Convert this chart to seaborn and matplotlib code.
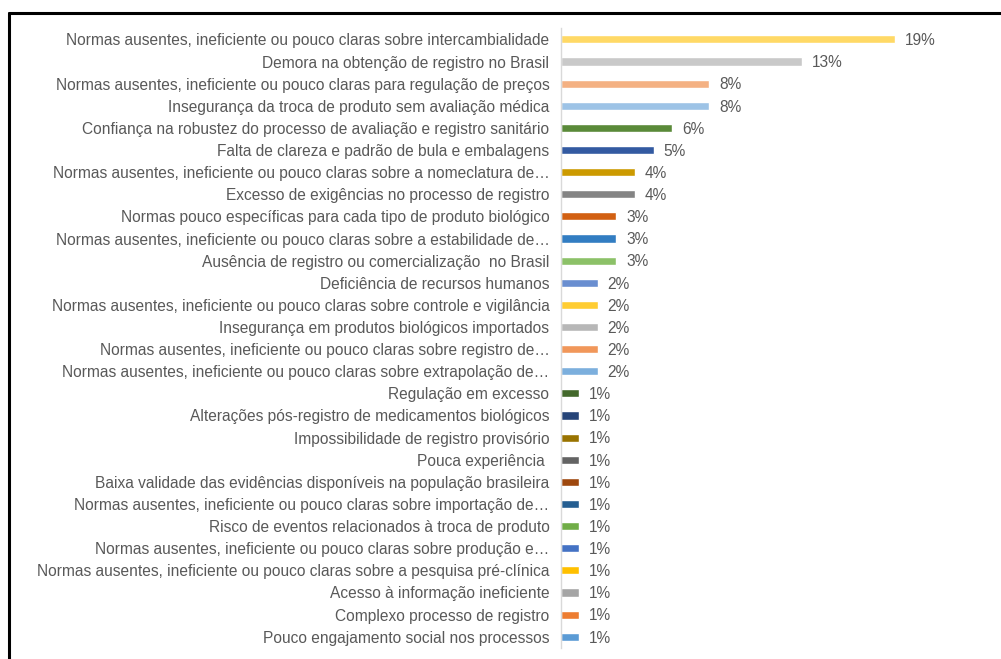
import matplotlib
matplotlib.use("Agg")
import matplotlib.pyplot as plt
from matplotlib.lines import Line2D
import seaborn as sns
import pandas as pd

# Motivos citados (de cima para baixo) e número de citações de cada um
motivos = [
    "Normas ausentes, ineficiente ou pouco claras sobre intercambialidade",
    "Demora na obtenção de registro no Brasil",
    "Normas ausentes, ineficiente ou pouco claras para regulação de preços",
    "Insegurança da troca de produto sem avaliação médica",
    "Confiança na robustez do processo de avaliação e registro sanitário",
    "Falta de clareza e padrão de bula e embalagens",
    "Normas ausentes, ineficiente ou pouco claras sobre a nomeclatura de…",
    "Excesso de exigências no processo de registro",
    "Normas pouco específicas para cada tipo de produto biológico",
    "Normas ausentes, ineficiente ou pouco claras sobre a estabilidade de…",
    "Ausência de registro ou comercialização  no Brasil",
    "Deficiência de recursos humanos",
    "Normas ausentes, ineficiente ou pouco claras sobre controle e vigilância",
    "Insegurança em produtos biológicos importados",
    "Normas ausentes, ineficiente ou pouco claras sobre registro de…",
    "Normas ausentes, ineficiente ou pouco claras sobre extrapolação de…",
    "Regulação em excesso",
    "Alterações pós-registro de medicamentos biológicos",
    "Impossibilidade de registro provisório",
    "Pouca experiência ",
    "Baixa validade das evidências disponíveis na população brasileira",
    "Normas ausentes, ineficiente ou pouco claras sobre importação de…",
    "Risco de eventos relacionados à troca de produto",
    "Normas ausentes, ineficiente ou pouco claras sobre produção e…",
    "Normas ausentes, ineficiente ou pouco claras sobre a pesquisa pré-clínica",
    "Acesso à informação ineficiente",
    "Complexo processo de registro",
    "Pouco engajamento social nos processos",
]
citacoes = [18, 13, 8, 8, 6, 5, 4, 4, 3, 3, 3, 2, 2, 2, 2, 2,
            1, 1, 1, 1, 1, 1, 1, 1, 1, 1, 1, 1]
cores = [
    "#FFD966", "#C9C9C9", "#F4B183", "#9DC3E6", "#5A8A39", "#335AA1",
    "#CC9A00", "#848484", "#D26012", "#327DC2", "#8CC168", "#698ED0",
    "#FFCD33", "#B7B7B7", "#F1975A", "#7CAFDD", "#43682B", "#264478",
    "#997300", "#636363", "#9E480E", "#255E91", "#70AD47", "#4472C4",
    "#FFC000", "#A5A5A5", "#ED7D31", "#5B9BD5",
]

total = sum(citacoes)
df = pd.DataFrame({
    "motivo": motivos,
    "pct": [100 * c / total for c in citacoes],
})

sns.set_theme(style="white")
plt.rcParams["font.family"] = ["Liberation Sans", "DejaVu Sans"]

fig = plt.figure(figsize=(10.01, 6.59), dpi=100)
ax = fig.add_axes([0.5600, 0.0170, 0.4200, 0.9400])

sns.barplot(data=df, y="motivo", x="pct", hue="motivo", palette=cores,
            legend=False, orient="h", width=0.37, saturation=1, ax=ax)

for i, p in enumerate(df["pct"]):
    ax.text(p + 0.55, i + 0.06, f"{p:.0f}%", va="center", ha="left",
            fontsize=11.2, color="#595959")

ax.set_xlim(0, 23.3)
ax.set_ylim(len(motivos) - 0.5, -0.5)
ax.set_xlabel("")
ax.set_ylabel("")
ax.set_xticks([])
ax.tick_params(axis="y", length=0, pad=8, labelsize=11.2, labelcolor="#595959")
for s in ["top", "right", "bottom"]:
    ax.spines[s].set_visible(False)
ax.spines["left"].set_color("#D9D9D9")
ax.spines["left"].set_linewidth(1.0)

# Moldura preta (bordas superior e esquerda)
fig.add_artist(Line2D([0.0092, 1.0], [0.9806, 0.9806], color="black",
                      lw=2.2, transform=fig.transFigure))
fig.add_artist(Line2D([0.0092, 0.0092], [0.0, 0.9806], color="black",
                      lw=2.2, transform=fig.transFigure))

fig.savefig("out.png", dpi=100, facecolor="white")
